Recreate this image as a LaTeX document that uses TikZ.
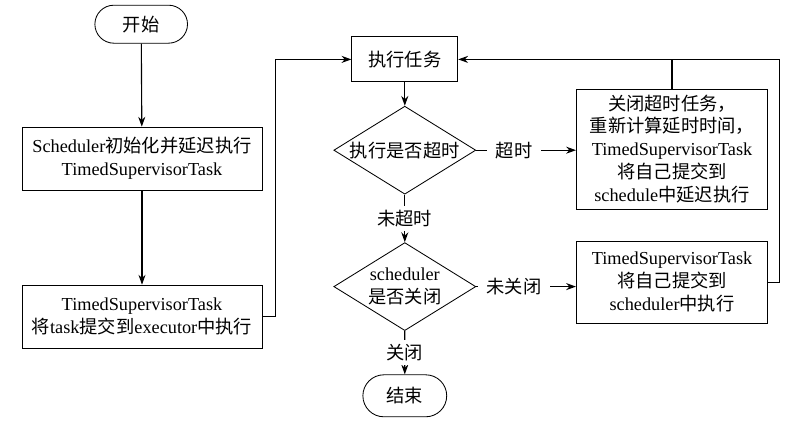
\documentclass[tikz,border=0pt]{standalone}
\usepackage{fontspec}
\setmainfont{Liberation Serif}
\newfontfamily\cjk{Noto Sans CJK SC}
\newcommand{\zh}[1]{{\cjk #1}}
\usetikzlibrary{arrows.meta, positioning, shapes.geometric, shapes.misc}

\begin{document}
\begin{tikzpicture}[
    font=\fontsize{13}{16.3}\selectfont,
    blk/.style={rectangle, draw, line width=0.6pt, minimum width=6cm,
                minimum height=1.575cm, align=center},
    term/.style={rounded rectangle, draw, line width=0.6pt,
                 minimum width=2.55cm, minimum height=0.95cm},
    dec/.style={diamond, draw, line width=0.6pt, aspect=1.6, minimum width=3.55cm,
                minimum height=2.2cm, inner sep=0pt, align=center},
    arr/.style={-{Stealth[length=7pt, width=5pt]}, line width=0.8pt},
    lbl/.style={fill=white, inner xsep=6pt, inner ysep=3pt},
  ]
  \useasboundingbox (0,0) rectangle (20,10.675);

  % Left column
  \node[term] (start) at (3.53,10.07) {\zh{开始}};
  \node[blk] (init) at (3.55,6.71)
    {Scheduler\zh{初始化并延迟执行}\\TimedSupervisorTask};
  \node[blk] (submit) at (3.55,2.76)
    {TimedSupervisorTask\\\zh{将}task\zh{提交到}executor\zh{中执行}};

  % Middle column
  \node[blk, minimum width=2.65cm, minimum height=1.125cm] (exec) at (10.12,9.19)
    {\zh{执行任务}};
  \node[dec] (timeout) at (10.12,6.92) {\zh{执行是否超时}};
  \node[dec] (closed) at (10.12,3.51) {scheduler\\\zh{是否关闭}};
  \node[term, minimum width=2.33cm, minimum height=1.05cm] (end) at (10.12,0.78)
    {\zh{结束}};

  % Right column
  \node[blk, minimum width=4.78cm, minimum height=3cm] (resched) at (16.8,6.95)
    {\zh{关闭超时任务，}\\\zh{重新计算延时时间，}\\TimedSupervisorTask\\
     \zh{将自己提交到}\\schedule\zh{中延迟执行}};
  \node[blk, minimum width=4.78cm, minimum height=2.05cm] (resubmit) at (16.8,3.62)
    {TimedSupervisorTask\\\zh{将自己提交到}\\scheduler\zh{中执行}};

  \draw[arr] (start) -- (init);
  \draw[arr] (init) -- (submit);
  \draw[arr] (submit.east) -- ++(0.33,0) |- (exec.west);
  \draw[arr] (exec) -- (timeout);
  \draw[arr] (timeout) -- node[lbl, pos=0.38] {\zh{超时}} (timeout -| resched.west);
  \draw[arr] (timeout) -- node[lbl] {\zh{未超时}} (closed);
  \draw[arr] (closed) -- node[lbl, pos=0.38] {\zh{未关闭}} (closed -| resubmit.west);
  \draw[arr] (closed) -- node[lbl] {\zh{关闭}} (end);

  % Back to the task
  \draw[line width=0.8pt] (resched.north) -- (resched.north |- exec.east);
  \draw[arr] (resubmit.east) -- ++(0.28,0) |- (exec.east);
\end{tikzpicture}
\end{document}
